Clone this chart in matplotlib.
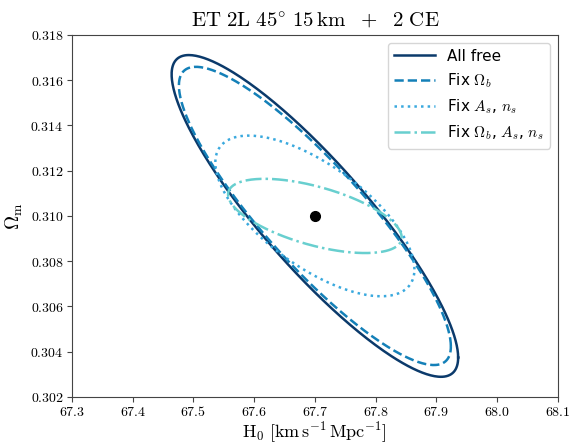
import numpy as np
import matplotlib
matplotlib.use("Agg")
import matplotlib.pyplot as plt
from matplotlib.ticker import FormatStrFormatter, MultipleLocator

plt.rcParams['mathtext.fontset'] = 'cm'
plt.rcParams['font.family'] = 'DejaVu Sans'

# Fiducial values
H0_fid = 67.7
Om_fid = 0.310

# Contour half-extents and correlation for each case
labels = ["All free", r"Fix $\Omega_b$", r"Fix $A_s$, $n_s$", r"Fix $\Omega_b$, $A_s$, $n_s$"]
half_H0 = [0.236, 0.224, 0.164, 0.143]
half_Om = [0.00711, 0.00659, 0.00355, 0.00164]
corr = [-0.88, -0.875, -0.665, -0.58]

colors = ["#0b3a6b", "#1480b8", "#3aa9de", "#68cfcf"]
styles = ["-", "--", ":", "-."]

fig = plt.figure(figsize=(5.72, 4.45), dpi=100)
ax = fig.add_axes([0.126, 0.108, 0.849, 0.8135])

t = np.linspace(0, 2*np.pi, 400)
for lab, sx, sy, r, c, ls in zip(labels, half_H0, half_Om, corr, colors, styles):
    x = H0_fid + sx*np.cos(t)
    y = Om_fid + sy*(r*np.cos(t) + np.sqrt(1 - r**2)*np.sin(t))
    ax.plot(x, y, ls=ls, color=c, lw=1.8, label=lab)

ax.plot([H0_fid], [Om_fid], 'o', color='black', ms=7)

ax.set_xlim(67.3, 68.1)
ax.set_ylim(0.302, 0.318)
ax.xaxis.set_major_locator(MultipleLocator(0.1))
ax.yaxis.set_major_locator(MultipleLocator(0.002))
ax.xaxis.set_major_formatter(FormatStrFormatter(r'$%.1f$'))
ax.yaxis.set_major_formatter(FormatStrFormatter(r'$%.3f$'))
ax.tick_params(labelsize=10, color='#444444', pad=2.5)
for s in ax.spines.values():
    s.set_color('#444444')

ax.set_xlabel(r'$\mathrm{H_0\ [km\,s^{-1}\,Mpc^{-1}]}$', fontsize=13, labelpad=0)
ax.set_ylabel(r'$\Omega_{\rm m}$', fontsize=14)
ax.set_title(r'$\mathrm{ET\ 2L\ 45^{\circ}\ 15\,km\ \ +\ \ 2\ CE}$', fontsize=15)

ax.legend(loc='upper right', fontsize=11, handlelength=2.7)

fig.savefig("out.png")
